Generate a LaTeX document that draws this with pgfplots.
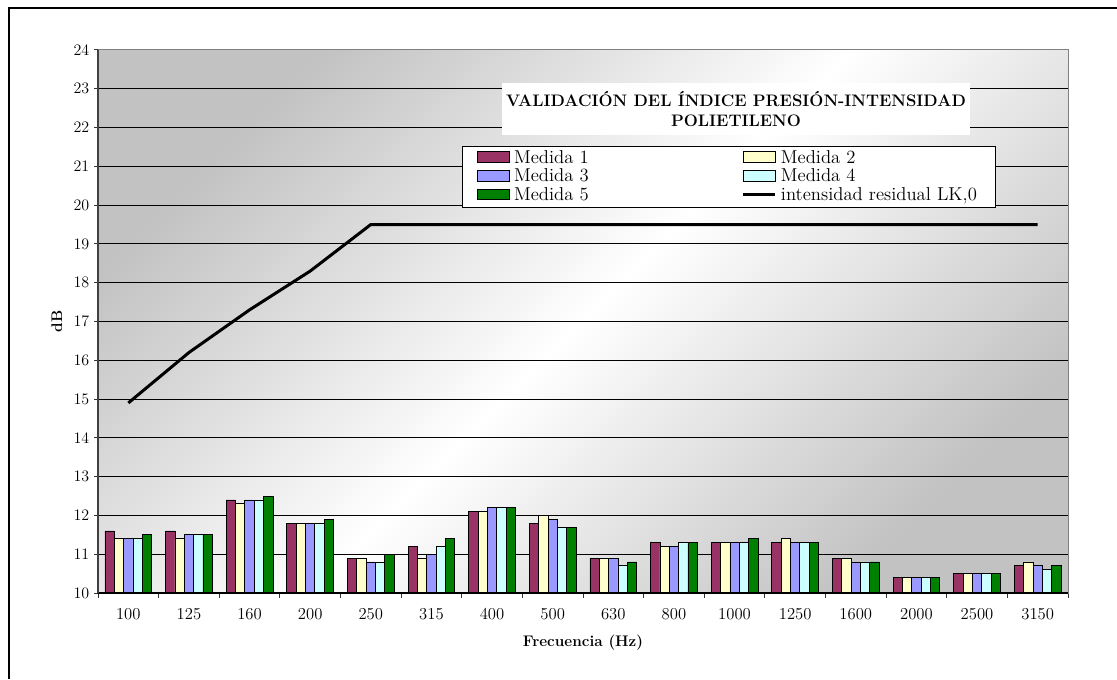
\documentclass[border=0pt]{standalone}
\usepackage{fontspec}
\usepackage{pgfplots}
\usepackage{pgfplotstable}
\pgfplotsset{compat=1.18}
\definecolor{mA}{HTML}{993366}
\definecolor{mB}{HTML}{FFFFCC}
\definecolor{mC}{HTML}{9999FF}
\definecolor{mD}{HTML}{CCFFFF}
\definecolor{mE}{HTML}{008000}
\pgfplotstableread{
x m1 m2 m3 m4 m5 lk
0 11.6 11.4 11.4 11.4 11.5 14.9
1 11.6 11.4 11.5 11.5 11.5 16.2
2 12.4 12.3 12.4 12.4 12.5 17.3
3 11.8 11.8 11.8 11.8 11.9 18.3
4 10.9 10.9 10.8 10.8 11.0 19.5
5 11.2 10.9 11.0 11.2 11.4 19.5
6 12.1 12.1 12.2 12.2 12.2 19.5
7 11.8 12.0 11.9 11.7 11.7 19.5
8 10.9 10.9 10.9 10.7 10.8 19.5
9 11.3 11.2 11.2 11.3 11.3 19.5
10 11.3 11.3 11.3 11.3 11.4 19.5
11 11.3 11.4 11.3 11.3 11.3 19.5
12 10.9 10.9 10.8 10.8 10.8 19.5
13 10.4 10.4 10.4 10.4 10.4 19.5
14 10.5 10.5 10.5 10.5 10.5 19.5
15 10.7 10.8 10.7 10.6 10.7 19.5
}\datatable
\pgfplotsset{
  mybar/.style={ybar, bar width=0.154, bar shift=#1, draw=black, line width=0.6pt,
    legend image code/.code={\draw[##1, line width=0.6pt] (0pt,-3pt) rectangle (24pt,5pt);}},
}
\begin{document}
\begin{tikzpicture}[x=1pt,y=1pt]
\useasboundingbox (0,0) rectangle (837.75,509.25);
\draw[line width=1.5pt] (6.75,0) -- (6.75,503.25) -- (837.75,503.25);
\begin{axis}[
  at={(73.5pt,64.5pt)}, anchor=south west,
  scale only axis, width=727.5pt, height=407.25pt,
  xmin=-0.5, xmax=15.5, ymin=10, ymax=24,
  xtick={0,...,15},
  xticklabels={100,125,160,200,250,315,400,500,630,800,1000,1250,1600,2000,2500,3150},
  minor xtick={-0.5,0.5,...,15.5},
  ytick={10,...,24},
  xtick pos=left, ytick pos=left,
  tick align=outside, major tick length=3pt, minor tick length=3.5pt,
  tick style={black!80, line width=0.75pt},
  major x tick style={draw=none},
  ymajorgrids, major grid style={black, line width=0.75pt},
  axis line style={draw=black!50, line width=0.75pt},
  axis background/.style={left color=black!24, right color=black!24, middle color=white, shading angle=45},
  tick label style={font=\fontsize{12.5}{14}\selectfont},
  xticklabel style={yshift=-5pt},
  xlabel={Frecuencia (Hz)}, ylabel={dB},
  every axis x label/.style={at={(axis description cs:0.5,-0.0921)}, anchor=center, font=\bfseries\fontsize{11.5}{13}\selectfont},
  every axis y label/.style={at={(axis description cs:-0.0423,0.5)}, rotate=90, anchor=center, font=\bfseries\fontsize{11.5}{13}\selectfont},
  legend columns=2, legend cell align=left,
  legend style={at={(rel axis cs:0.3753,0.8232)}, anchor=north west, draw=black, fill=white, line width=0.75pt,
    font=\fontsize{14}{15}\selectfont, inner xsep=11pt, inner ysep=2pt, column sep=0pt,
    nodes={inner xsep=3pt, inner ysep=1pt, text height=9.5pt, text depth=2.5pt},
    /tikz/column 2/.style={column sep=112pt}},
  after end axis/.code={
    \draw[black, line width=1pt] (rel axis cs:0,0) -- (rel axis cs:1,0);
    \draw[black!75, line width=1pt] (rel axis cs:0,0) -- (rel axis cs:0,1);
  },
]
\addplot[mybar=-0.308, fill=mA] table[x=x,y=m1]{\datatable};
\addlegendentry{Medida 1}
\addplot[mybar=-0.154, fill=mB] table[x=x,y=m2]{\datatable};
\addlegendentry{Medida 2}
\addplot[mybar=0, fill=mC] table[x=x,y=m3]{\datatable};
\addlegendentry{Medida 3}
\addplot[mybar=0.154, fill=mD] table[x=x,y=m4]{\datatable};
\addlegendentry{Medida 4}
\addplot[mybar=0.308, fill=mE] table[x=x,y=m5]{\datatable};
\addlegendentry{Medida 5}
\addplot[black, line width=2.25pt, mark=none,
  legend image code/.code={\draw[black, line width=2.25pt] (0pt,1pt) -- (24pt,1pt);}]
  table[x=x,y=lk]{\datatable};
\addlegendentry{intensidad residual LK,0}
\node[fill=white, inner sep=0pt, minimum width=351pt, minimum height=39pt, align=center,
  font=\bfseries\fontsize{12.5}{15.5}\selectfont] at (rel axis cs:0.6577,0.8913)
  {VALIDACIÓN DEL ÍNDICE PRESIÓN-INTENSIDAD\\POLIETILENO};
\end{axis}
\end{tikzpicture}
\end{document}
